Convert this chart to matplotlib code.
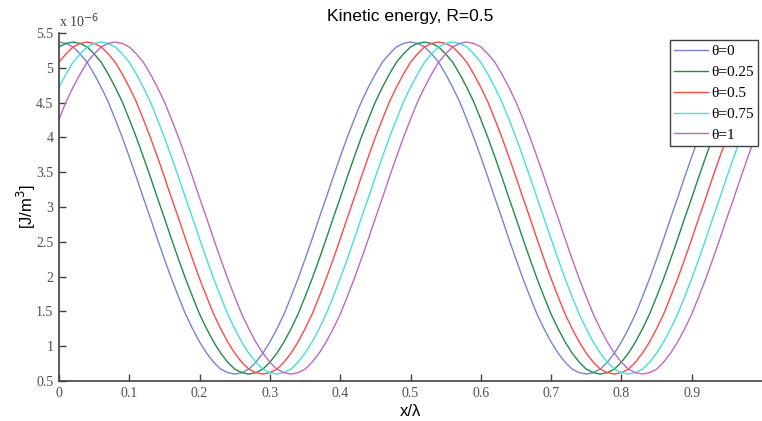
import matplotlib
matplotlib.use('Agg')
import matplotlib.pyplot as plt
from matplotlib.ticker import FixedLocator, FixedFormatter

# Kinetic energy along the wave, sampled every 0.01 of x/lambda (units 1e-6 J/m^3)
x_lam = [round(0.01 * i, 2) for i in range(100)]

ke_theta0 = [
    5.37, 5.35, 5.30, 5.20, 5.08, 4.91, 4.72, 4.51, 4.26, 4.00,
    3.72, 3.43, 3.13, 2.84, 2.54, 2.25, 1.97, 1.71, 1.46, 1.25,
    1.06, 0.90, 0.77, 0.67, 0.62, 0.60, 0.62, 0.67, 0.77, 0.90,
    1.06, 1.25, 1.46, 1.71, 1.97, 2.25, 2.54, 2.84, 3.13, 3.43,
    3.72, 4.00, 4.26, 4.51, 4.72, 4.91, 5.08, 5.20, 5.30, 5.35,
    5.37, 5.35, 5.30, 5.20, 5.08, 4.91, 4.72, 4.51, 4.26, 4.00,
    3.72, 3.43, 3.13, 2.84, 2.54, 2.25, 1.97, 1.71, 1.46, 1.25,
    1.06, 0.90, 0.77, 0.67, 0.62, 0.60, 0.62, 0.67, 0.77, 0.90,
    1.06, 1.25, 1.46, 1.71, 1.97, 2.25, 2.54, 2.84, 3.13, 3.43,
    3.72, 4.00, 4.26, 4.51, 4.72, 4.91, 5.08, 5.20, 5.30, 5.35,
]
ke_theta025 = [
    5.30, 5.35, 5.37, 5.35, 5.30, 5.20, 5.08, 4.91, 4.72, 4.51,
    4.26, 4.00, 3.72, 3.43, 3.13, 2.84, 2.54, 2.25, 1.97, 1.71,
    1.46, 1.25, 1.06, 0.90, 0.77, 0.67, 0.62, 0.60, 0.62, 0.67,
    0.77, 0.90, 1.06, 1.25, 1.46, 1.71, 1.97, 2.25, 2.54, 2.84,
    3.13, 3.43, 3.72, 4.00, 4.26, 4.51, 4.72, 4.91, 5.08, 5.20,
    5.30, 5.35, 5.37, 5.35, 5.30, 5.20, 5.08, 4.91, 4.72, 4.51,
    4.26, 4.00, 3.72, 3.43, 3.13, 2.84, 2.54, 2.25, 1.97, 1.71,
    1.46, 1.25, 1.06, 0.90, 0.77, 0.67, 0.62, 0.60, 0.62, 0.67,
    0.77, 0.90, 1.06, 1.25, 1.46, 1.71, 1.97, 2.25, 2.54, 2.84,
    3.13, 3.43, 3.72, 4.00, 4.26, 4.51, 4.72, 4.91, 5.08, 5.20,
]
ke_theta05 = [
    5.08, 5.20, 5.30, 5.35, 5.37, 5.35, 5.30, 5.20, 5.08, 4.91,
    4.72, 4.51, 4.26, 4.00, 3.72, 3.43, 3.13, 2.84, 2.54, 2.25,
    1.97, 1.71, 1.46, 1.25, 1.06, 0.90, 0.77, 0.67, 0.62, 0.60,
    0.62, 0.67, 0.77, 0.90, 1.06, 1.25, 1.46, 1.71, 1.97, 2.25,
    2.54, 2.84, 3.13, 3.43, 3.72, 4.00, 4.26, 4.51, 4.72, 4.91,
    5.08, 5.20, 5.30, 5.35, 5.37, 5.35, 5.30, 5.20, 5.08, 4.91,
    4.72, 4.51, 4.26, 4.00, 3.72, 3.43, 3.13, 2.84, 2.54, 2.25,
    1.97, 1.71, 1.46, 1.25, 1.06, 0.90, 0.77, 0.67, 0.62, 0.60,
    0.62, 0.67, 0.77, 0.90, 1.06, 1.25, 1.46, 1.71, 1.97, 2.25,
    2.54, 2.84, 3.13, 3.43, 3.72, 4.00, 4.26, 4.51, 4.72, 4.91,
]
ke_theta075 = [
    4.72, 4.91, 5.08, 5.20, 5.30, 5.35, 5.37, 5.35, 5.30, 5.20,
    5.08, 4.91, 4.72, 4.51, 4.26, 4.00, 3.72, 3.43, 3.13, 2.84,
    2.54, 2.25, 1.97, 1.71, 1.46, 1.25, 1.06, 0.90, 0.77, 0.67,
    0.62, 0.60, 0.62, 0.67, 0.77, 0.90, 1.06, 1.25, 1.46, 1.71,
    1.97, 2.25, 2.54, 2.84, 3.13, 3.43, 3.72, 4.00, 4.26, 4.51,
    4.72, 4.91, 5.08, 5.20, 5.30, 5.35, 5.37, 5.35, 5.30, 5.20,
    5.08, 4.91, 4.72, 4.51, 4.26, 4.00, 3.72, 3.43, 3.13, 2.84,
    2.54, 2.25, 1.97, 1.71, 1.46, 1.25, 1.06, 0.90, 0.77, 0.67,
    0.62, 0.60, 0.62, 0.67, 0.77, 0.90, 1.06, 1.25, 1.46, 1.71,
    1.97, 2.25, 2.54, 2.84, 3.13, 3.43, 3.72, 4.00, 4.26, 4.51,
]
ke_theta1 = [
    4.26, 4.51, 4.72, 4.91, 5.08, 5.20, 5.30, 5.35, 5.37, 5.35,
    5.30, 5.20, 5.08, 4.91, 4.72, 4.51, 4.26, 4.00, 3.72, 3.43,
    3.13, 2.84, 2.54, 2.25, 1.97, 1.71, 1.46, 1.25, 1.06, 0.90,
    0.77, 0.67, 0.62, 0.60, 0.62, 0.67, 0.77, 0.90, 1.06, 1.25,
    1.46, 1.71, 1.97, 2.25, 2.54, 2.84, 3.13, 3.43, 3.72, 4.00,
    4.26, 4.51, 4.72, 4.91, 5.08, 5.20, 5.30, 5.35, 5.37, 5.35,
    5.30, 5.20, 5.08, 4.91, 4.72, 4.51, 4.26, 4.00, 3.72, 3.43,
    3.13, 2.84, 2.54, 2.25, 1.97, 1.71, 1.46, 1.25, 1.06, 0.90,
    0.77, 0.67, 0.62, 0.60, 0.62, 0.67, 0.77, 0.90, 1.06, 1.25,
    1.46, 1.71, 1.97, 2.25, 2.54, 2.84, 3.13, 3.43, 3.72, 4.00,
]

series = [ke_theta0, ke_theta025, ke_theta05, ke_theta075, ke_theta1]
labels = ['\u03b8=0', '\u03b8=0.25', '\u03b8=0.5', '\u03b8=0.75', '\u03b8=1']
colors = ['#7585cf', '#228b4a', '#ff4848', '#45dede', '#c068c0']

x_ticks = [0, 0.1, 0.2, 0.3, 0.4, 0.5, 0.6, 0.7, 0.8, 0.9]
x_ticklabels = ['0', '0.1', '0.2', '0.3', '0.4', '0.5', '0.6', '0.7', '0.8', '0.9']
y_ticks = [0.5, 1, 1.5, 2, 2.5, 3, 3.5, 4, 4.5, 5, 5.5]
y_ticklabels = ['0.5', '1', '1.5', '2', '2.5', '3', '3.5', '4', '4.5', '5', '5.5']

serif = 'Liberation Serif'
sans = 'Liberation Sans'
axis_grey = '#404040'

# Figure and axes:
fig = plt.figure(figsize=(7.62, 4.21), dpi=100)
ax = fig.add_axes([59 / 762, 40 / 421, 703 / 762, 348 / 421])

for y, lab, col in zip(series, labels, colors):
    ax.plot(x_lam, y, color=col, lw=1.0, label=lab)

ax.set_xlim(0, 1.0)
ax.set_ylim(0.5, 5.5)
ax.xaxis.set_major_locator(FixedLocator(x_ticks))
ax.xaxis.set_major_formatter(FixedFormatter(x_ticklabels))
ax.yaxis.set_major_locator(FixedLocator(y_ticks))
ax.yaxis.set_major_formatter(FixedFormatter(y_ticklabels))

# MATLAB-like axes: box off, ticks inside
for side in ['top', 'right']:
    ax.spines[side].set_visible(False)
for side in ['left', 'bottom']:
    ax.spines[side].set_color(axis_grey)
    ax.spines[side].set_linewidth(1.2)
ax.tick_params(direction='in', length=5, width=1, color=axis_grey,
               labelcolor='#505050', labelsize=10, pad=4)
for t in ax.get_xticklabels() + ax.get_yticklabels():
    t.set_family(serif)

# Exponent label above the y axis:
fig.text(59 / 762, 1 - 27 / 421, r'x 10$^{-6}$', family=serif, fontsize=10,
         color='#404040', ha='left', va='baseline')

ax.set_title('Kinetic energy, R=0.5', family=sans, fontsize=12.6, pad=9)
ax.set_xlabel('x/\u03bb', family=sans, fontsize=12, labelpad=3)
ax.set_ylabel('[J/m$^3$]', family=sans, fontsize=12, labelpad=-1)

leg = ax.legend(loc='upper right', bbox_to_anchor=((758 - 59) / 703, (381 - 40) / 348),
                borderaxespad=0, prop={'family': serif, 'size': 11},
                handlelength=2.2, handletextpad=0.2, labelspacing=0.47,
                borderpad=0.3, fancybox=False, framealpha=1)
leg.get_frame().set_edgecolor('#404040')
leg.get_frame().set_linewidth(1.0)

fig.savefig('out.png', dpi=100)
